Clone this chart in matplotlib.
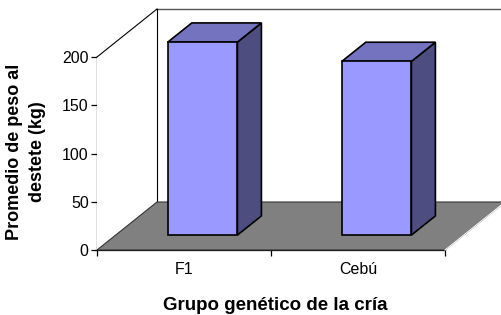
import matplotlib
matplotlib.use("Agg")
import matplotlib.pyplot as plt
import numpy as np
from matplotlib.patches import Polygon
from matplotlib.lines import Line2D
from matplotlib.transforms import IdentityTransform

categories = ["F1", "Cebú"]
values = [200, 180]
y_ticks = [0, 50, 100, 150, 200]
y_label = "Promedio de peso al\ndestete (kg)"
x_label = "Grupo genético de la cría"

FONT = ["Liberation Sans", "DejaVu Sans"]
plt.rcParams["font.family"] = FONT

fig = plt.figure(figsize=(5.01, 3.15), dpi=100)
W, H = 501, 315
# front plane of the 3D box
x0, x1 = 97, 445
y0, y1 = 250, 57
ax = fig.add_axes([x0 / W, (H - y0) / H, (x1 - x0) / W, (y0 - y1) / H])
ax.set_xlim(0, len(categories))
ax.set_ylim(0, 200)
ax.patch.set_visible(False)
for s in ["top", "right"]:
    ax.spines[s].set_visible(False)
ax.spines["left"].set_linewidth(0.9)
ax.spines["bottom"].set_linewidth(0.9)
ax.spines["left"].set_zorder(20)
ax.spines["bottom"].set_zorder(20)
ax.set_yticks(y_ticks)
ax.set_yticklabels([str(t) for t in y_ticks], fontsize=11.5)
ax.set_xticks(np.arange(len(categories) + 1))
ax.set_xticklabels([])
ax.set_xticks(np.arange(len(categories)) + 0.5, minor=True)
ax.set_xticklabels(categories, minor=True, fontsize=11.5)
ax.tick_params(axis="x", which="minor", length=0, pad=9)
ax.tick_params(axis="x", which="major", length=4, width=0.9)
ax.tick_params(axis="y", length=4, width=0.9, pad=2)

DX, DY = 60.0, 48.0  # full depth offset in pixels


def proj(x, y, d):
    px, py = ax.transData.transform((x, y))
    return (px + d * DX, py + d * DY)


def poly(pts, **kw):
    p = Polygon([proj(*q) for q in pts], closed=True, transform=IdentityTransform(),
                clip_on=False, **kw)
    fig.add_artist(p)
    return p


def line(a, b, **kw):
    pa, pb = proj(*a), proj(*b)
    l = Line2D([pa[0], pb[0]], [pa[1], pb[1]], transform=IdentityTransform(), **kw)
    fig.add_artist(l)


n = len(categories)
ymax = 200
# back wall
poly([(0, 0, 1), (n, 0, 1), (n, ymax, 1), (0, ymax, 1)], facecolor="white", edgecolor="none", zorder=1)
line((0, ymax, 1), (n, ymax, 1), color="#555555", lw=1.0, zorder=2)
line((0, 0, 1), (0, ymax, 1), color="black", lw=0.8, zorder=2)
# side wall
poly([(0, 0, 0), (0, ymax, 0), (0, ymax, 1), (0, 0, 1)], facecolor="white", edgecolor="none", zorder=1)
line((0, ymax, 0), (0, ymax, 1), color="black", lw=0.8, zorder=2)
# floor
poly([(0, 0, 0), (n, 0, 0), (n, 0, 1), (0, 0, 1)], facecolor="#808080", edgecolor="#333333", lw=0.8, zorder=3)
line((n, 0, 0), (n, 0, 1), color="white", lw=0.8, zorder=4)

# bars
bw = 0.4
f0, f1 = 0.31, 0.71
front_c, top_c, side_c = "#9999FF", "#7373BF", "#4D4D80"
for i, v in enumerate(values):
    a, b = i + 0.5 - bw / 2, i + 0.5 + bw / 2
    ek = dict(edgecolor="black", lw=1.2, joinstyle="miter", zorder=6)
    poly([(b, 0, f0), (b, 0, f1), (b, v, f1), (b, v, f0)], facecolor=side_c, **ek)
    poly([(a, v, f0), (b, v, f0), (b, v, f1), (a, v, f1)], facecolor=top_c, **ek)
    poly([(a, 0, f0), (b, 0, f0), (b, v, f0), (a, v, f0)], facecolor=front_c, **ek)

fig.text(26 / W, 1 - 152 / H, y_label, rotation=90, ha="center", va="center",
         fontsize=13, fontweight="bold", linespacing=1.45, multialignment="center")
fig.text(275 / W, 1 - 305 / H, x_label, ha="center", va="center", fontsize=13.5, fontweight="bold")

fig.savefig("out.png", dpi=100)
